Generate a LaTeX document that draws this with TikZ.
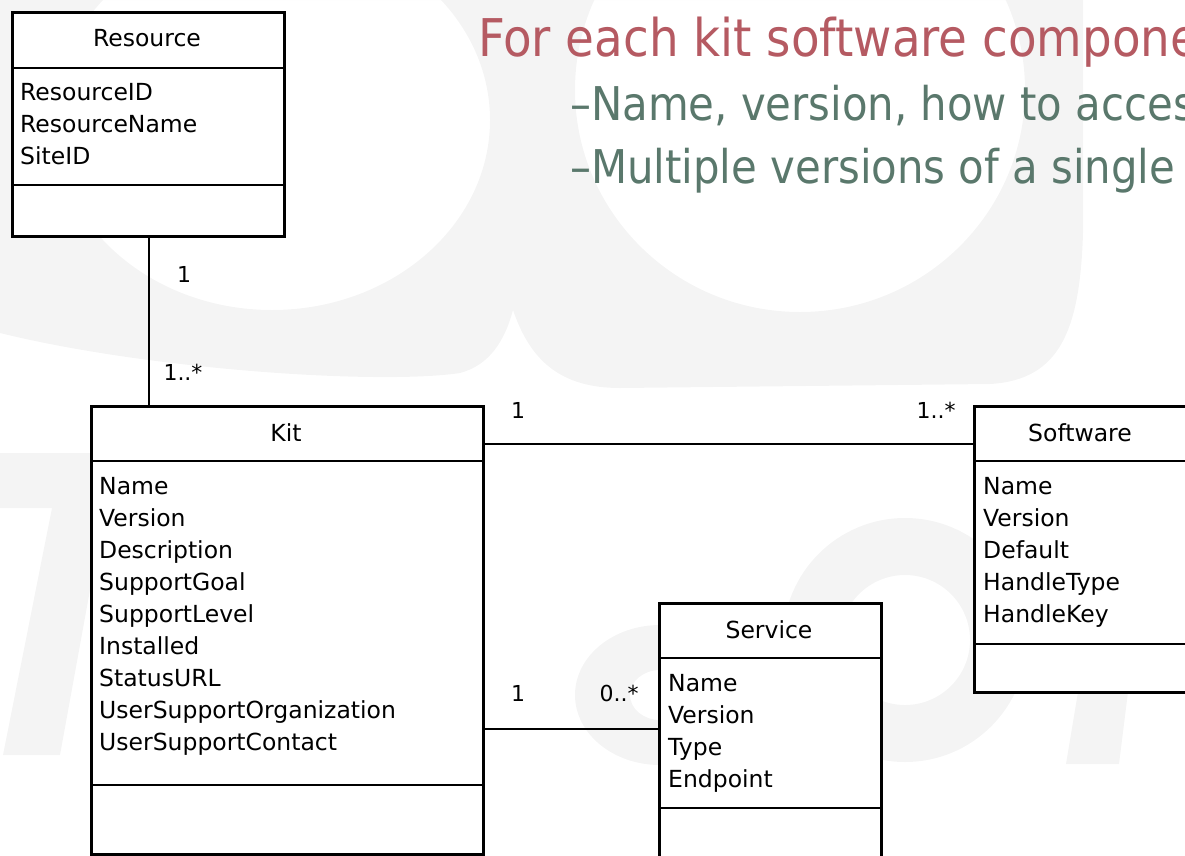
\documentclass[tikz,border=0pt]{standalone}
\usepackage{fontspec}
\setmainfont{DejaVu Sans}
\newfontfamily\slidefont{DejaVu Sans Condensed}
\usetikzlibrary{positioning, shadows}
\definecolor{headred}{RGB}{181,90,98}
\definecolor{subgreen}{RGB}{90,120,108}
\definecolor{wmgray}{RGB}{244,244,244}
\tikzstyle{umlclass}=[rectangle, draw=black, fill=white, line width=2.6pt, inner sep=0pt, anchor=north west,
  drop shadow={shadow xshift=2pt, shadow yshift=-2pt, opacity=0.25}]
\tikzstyle{divider}=[line width=2.6pt]
\tikzstyle{assoc}=[line width=2.6pt]
\tikzstyle{classname}=[anchor=base, inner sep=0pt, font=\fontsize{23.5}{28}\selectfont]
\tikzstyle{attr}=[anchor=base west, inner sep=0pt, font=\fontsize{23.5}{28}\selectfont]
\tikzstyle{mult}=[inner sep=0pt, font=\fontsize{22}{24}\selectfont]
\tikzstyle{watermark}=[fill=wmgray, even odd rule]

\begin{document}
\begin{tikzpicture}[x=1pt, y=-1pt]
  \useasboundingbox (0,0) rectangle (1185,855);
  \clip (0,0) rectangle (1185,855);

  % faint logo behind the slide
  \fill[watermark] (0,0) -- (0,333) .. controls (150,370) and (380,385) .. (460,373)
    .. controls (490,365) and (505,340) .. (513,310) -- (513,0) -- cycle
    (272,120) ellipse [x radius=218, y radius=190];
  \fill[watermark] (513,310) .. controls (530,360) and (560,388) .. (620,388) -- (990,384)
    .. controls (1060,380) and (1080,330) .. (1083,233) -- (1083,0) -- (513,0) -- cycle
    (800,90) ellipse [x radius=225, y radius=222];
  \fill[watermark] (0,453) -- (90,453) -- (90,590) -- (60,755) -- (3,755) -- (52,508) -- (0,508) -- cycle;
  \fill[watermark] (660,695) ellipse [x radius=85, y radius=70] (660,695) ellipse [x radius=30, y radius=25];
  \fill[watermark] (905,640) circle [radius=122] (905,640) circle [radius=65];
  \fill[watermark] (1078,692) -- (1128,692) -- (1119,764) -- (1066,764) -- cycle;

  % slide text
  \node[anchor=base west, inner sep=0pt, text=headred, font=\slidefont\fontsize{52}{60}\selectfont] (head) at (478,56) {For each kit software compone};
  \node[anchor=base west, inner sep=0pt, text=subgreen, font=\slidefont\fontsize{46.5}{54}\selectfont] (sub1) at (570,120) {\textendash Name, version, how to acces};
  \node[anchor=base west, inner sep=0pt, text=subgreen, font=\slidefont\fontsize{46.5}{54}\selectfont] (sub2) at (570,183) {\textendash Multiple versions of a single};

  % classes
  \node[umlclass, minimum width=272pt, minimum height=224pt] (res) at (11,11) {};
  \node[umlclass, minimum width=392pt, minimum height=448pt] (kit) at (90,405) {};
  \node[umlclass, minimum width=320pt, minimum height=286pt] (soft) at (973,405) {};
  \node[umlclass, minimum width=222pt, minimum height=270pt] (svc) at (658,602) {};

  \draw[divider] ([yshift=-57pt]res.north west) -- ([yshift=-57pt]res.north east);
  \draw[divider] ([yshift=-174pt]res.north west) -- ([yshift=-174pt]res.north east);
  \draw[divider] ([yshift=-56pt]kit.north west) -- ([yshift=-56pt]kit.north east);
  \draw[divider] ([yshift=-380pt]kit.north west) -- ([yshift=-380pt]kit.north east);
  \draw[divider] ([yshift=-56pt]soft.north west) -- ([yshift=-56pt]soft.north east);
  \draw[divider] ([yshift=-239pt]soft.north west) -- ([yshift=-239pt]soft.north east);
  \draw[divider] ([yshift=-56pt]svc.north west) -- ([yshift=-56pt]svc.north east);
  \draw[divider] ([yshift=-206pt]svc.north west) -- ([yshift=-206pt]svc.north east);

  \node[classname] (resname) at (147,46) {Resource};
  \node[classname] (kitname) at (286,441) {Kit};
  \node[classname] (softname) at (1080,441) {Software};
  \node[classname] (svcname) at (769,638) {Service};

  \foreach \a [count=\i] in {ResourceID, ResourceName, SiteID}
    \node[attr] (resattr\i) at (20,68+32*\i) {\a};
  \foreach \a [count=\i] in {Name, Version, Description, SupportGoal, SupportLevel,
      Installed, StatusURL, UserSupportOrganization, UserSupportContact}
    \node[attr] (kitattr\i) at (99,462+32*\i) {\a};
  \foreach \a [count=\i] in {Name, Version, Default, HandleType, HandleKey}
    \node[attr] (softattr\i) at (983,462+32*\i) {\a};
  \foreach \a [count=\i] in {Name, Version, Type, Endpoint}
    \node[attr] (svcattr\i) at (668,659+32*\i) {\a};

  % associations
  \draw[assoc] ([xshift=138pt]res.south west) -- ([xshift=59pt]kit.north west);
  \draw[assoc] ([yshift=-39pt]kit.north east) -- ([yshift=-39pt]soft.north west);
  \draw[assoc] ([yshift=-324pt]kit.north east) -- ([yshift=-127pt]svc.north west);

  \node[mult] (m1) at (184,274) {1};
  \node[mult] (m2) at (183,372) {1..*};
  \node[mult] (m3) at (518,410) {1};
  \node[mult] (m4) at (936,410) {1..*};
  \node[mult] (m5) at (518,693) {1};
  \node[mult] (m6) at (619,693) {0..*};
\end{tikzpicture}
\end{document}
